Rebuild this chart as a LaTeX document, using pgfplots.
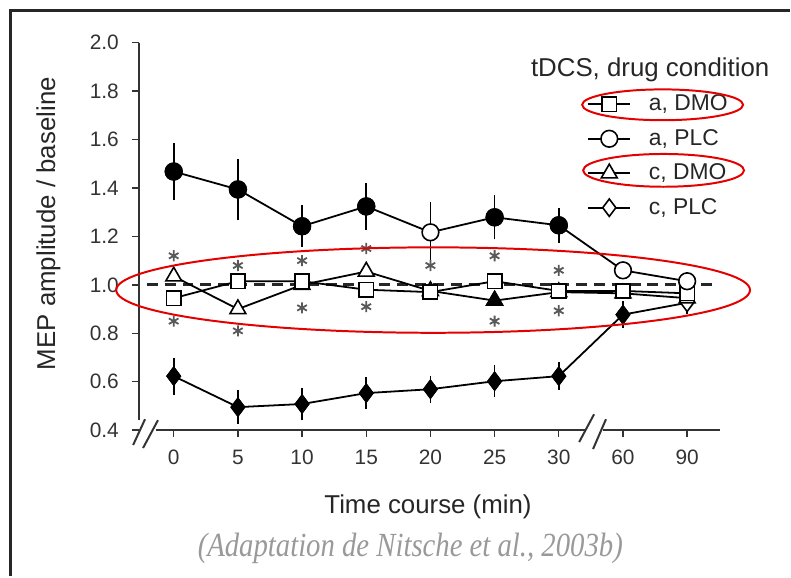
\documentclass[border=0pt]{standalone}
\usepackage{pgfplots}
\pgfplotsset{compat=1.18}
\usepackage{fontspec}
\usepackage{graphicx}
\setmainfont{Liberation Sans}
\newfontfamily\capfont{Liberation Serif}

\begin{document}
\begin{tikzpicture}
% pixel frame of the reference: 1 px = 0.5 pt, axis corner at px (140,433)
\begin{scope}[x=0.5pt, y=-0.5pt, xshift=-70pt, yshift=216.5pt]
  \useasboundingbox (0,0) rectangle (791,577);
\end{scope}

\begin{axis}[
    at={(0,0)}, anchor=south west,
    scale only axis, width=292pt, height=195pt,
    xmin=-0.54, xmax=8.5, ymin=0.4, ymax=2.0,
    axis x line*=bottom, axis y line*=left,
    axis line style={draw=none},
    clip=false,
    xtick={0,1,2,3,4,5,6,7,8},
    xticklabels={0,5,10,15,20,25,30,60,90},
    ytick={0.4,0.6,0.8,1.0,1.2,1.4,1.6,1.8,2.0},
    /pgf/number format/assume math mode=true,
    tick align=outside,
    major tick length=3.5pt,
    tick style={line width=0.7pt, black!80},
    ticklabel style={font=\fontsize{10.5}{12}\selectfont, text=black!80},
    yticklabel style={anchor=east, inner sep=0pt, xshift=-6.5pt,
        /pgf/number format/fixed, /pgf/number format/fixed zerofill,
        /pgf/number format/precision=1},
    xticklabel style={anchor=north, inner sep=0pt, yshift=-6.5pt},
    xlabel={Time course (min)},
    ylabel={MEP amplitude / baseline},
    xlabel style={at={(axis description cs:0.498,-0.197)}, anchor=center,
        font=\fontsize{13}{15}\selectfont, text=black!85},
    ylabel style={at={(axis description cs:-0.156,0.533)}, anchor=center,
        font=\fontsize{13}{15}\selectfont, text=black!85},
    legend style={at={(rel axis cs:0.773,0.868)}, anchor=north west,
        draw=none, fill=none, inner sep=0pt, outer sep=0pt,
        row sep=6.85pt, column sep=9pt,
        font=\fontsize{11.5}{13}\selectfont, text=black!85,
        nodes={inner sep=0pt, text height=8.5pt, text depth=2pt}},
    legend cell align=left,
    legend image code/.code={\draw[mark repeat=2, mark phase=2]
        plot coordinates {(0pt,0pt) (10.5pt,0pt) (21pt,0pt)};},
]
% legend entries
\addlegendimage{black, line width=0.9pt, mark=square*, mark size=3.6pt, mark options={fill=white, line width=0.8pt}}
\addlegendentry{a, DMO}
\addlegendimage{black, line width=0.9pt, mark=*, mark size=4.2pt, mark options={fill=white, line width=0.8pt}}
\addlegendentry{a, PLC}
\addlegendimage{black, line width=0.9pt, mark=triangle*, mark size=4.6pt, mark options={fill=white, line width=0.8pt}}
\addlegendentry{c, DMO}
\addlegendimage{black, line width=0.9pt, mark=diamond*, mark size=4.4pt, mark options={fill=white, line width=0.8pt}}
\addlegendentry{c, PLC}

% baseline
\addplot[forget plot, black!85, line width=1.4pt, dash pattern=on 5.5pt off 3.5pt]
    coordinates {(-0.42,1) (8.41,1)};

% c, PLC (diamonds)
\addplot[forget plot, black, line width=0.9pt, mark=diamond*, mark size=4.4pt,
    mark options={fill=white, line width=0.8pt},
    error bars/.cd, y dir=both, y explicit,
    error bar style={line width=0.8pt}, error mark options={mark size=2pt, line width=0.8pt}]
    coordinates {(0,0.623) +- (0,0.06) (1,0.495) +- (0,0.053) (2,0.508) +- (0,0.05)
                 (3,0.553) +- (0,0.05) (4,0.569) +- (0,0.04) (5,0.602) +- (0,0.05)
                 (6,0.623) +- (0,0.04) (7,0.877) +- (0,0.04) (8,0.926) +- (0,0.03)};
\addplot[forget plot, only marks, black, mark=diamond*, mark size=4.4pt,
    mark options={fill=black, line width=0.8pt}]
    coordinates {(0,0.623) (1,0.495) (2,0.508) (3,0.553) (4,0.569) (5,0.602) (6,0.623) (7,0.877)};

% c, DMO (triangles)
\addplot[forget plot, black, line width=0.9pt, mark=triangle*, mark size=4.6pt,
    mark options={fill=white, line width=0.8pt}]
    coordinates {(0,1.035) (1,0.90) (2,1.0) (3,1.055) (4,0.975) (5,0.935) (6,0.97) (7,0.965) (8,0.945)};
\addplot[forget plot, only marks, black, mark=triangle*, mark size=4.6pt,
    mark options={fill=black, line width=0.8pt}]
    coordinates {(5,0.935)};

% a, DMO (squares)
\addplot[forget plot, black, line width=0.9pt, mark=square*, mark size=3.6pt,
    mark options={fill=white, line width=0.8pt}]
    coordinates {(0,0.945) (1,1.015) (2,1.015) (3,0.98) (4,0.97) (5,1.015) (6,0.975) (7,0.975) (8,0.965)};

% a, PLC (circles)
\addplot[forget plot, black, line width=0.9pt, mark=*, mark size=4.2pt,
    mark options={fill=white, line width=0.8pt},
    error bars/.cd, y dir=both, y explicit,
    error bar style={line width=0.8pt}, error mark options={mark size=2pt, line width=0.8pt}]
    coordinates {(0,1.468) +- (0,0.10) (1,1.394) +- (0,0.11) (2,1.242) +- (0,0.07)
                 (3,1.324) +- (0,0.08) (4,1.217) +- (0,0.11) (5,1.279) +- (0,0.075)
                 (6,1.246) +- (0,0.055) (7,1.06) +- (0,0.02) (8,1.015) +- (0,0.02)};
\addplot[forget plot, only marks, black, mark=*, mark size=4.2pt,
    mark options={fill=black, line width=0.8pt}]
    coordinates {(0,1.468) (1,1.394) (2,1.242) (3,1.324) (5,1.279) (6,1.246)};

% significance asterisks
\addplot[forget plot, only marks, black!65, mark=asterisk, mark size=2.8pt,
    mark options={line width=0.9pt}]
    coordinates {(0,1.12) (0,0.85) (1,1.08) (1,0.81) (2,1.10) (2,0.905)
                 (3,1.15) (3,0.91) (4,1.08) (5,1.12) (5,0.85) (6,1.06) (6,0.893)};

% broken axis lines
\draw[black!80, line width=1pt] (axis cs:-0.54,2.0) -- (axis cs:-0.54,0.44);
\draw[black!80, line width=1pt] (axis cs:-0.28,0.4) -- (axis cs:6.42,0.4);
\draw[black!80, line width=1pt] (axis cs:6.69,0.4) -- (axis cs:8.51,0.4);
\end{axis}

\begin{scope}[x=0.5pt, y=-0.5pt, xshift=-70pt, yshift=216.5pt]
  % axis breaks
  \draw[black!80, line width=1pt] (134,448) -- (146,422) (144,451) -- (159,423);
  \draw[black!80, line width=1pt] (583,445) -- (598,417) (597,452) -- (610,422);
  % legend title
  \node[font=\fontsize{13}{15}\selectfont, text=black!85] at (654.5,70) {tDCS, drug condition};
  % source line
  \node[text=black!40] at (413,552)
      {\scalebox{0.85}[1]{\capfont\itshape\fontsize{17}{20}\selectfont (Adaptation de Nitsche et al., 2003b)}};
  % frame
  \draw[black!85, line width=1.25pt] (10.5,580) -- (10.5,10.5) -- (795,10.5);
  % red highlight ellipses
  \draw[red!90!black, line width=1pt] (436,292) ellipse [x radius=319, y radius=43];
  \draw[red!90!black, line width=1pt] (667,105.5) ellipse [x radius=81, y radius=15.5];
  \draw[red!90!black, line width=1pt] (668,171.5) ellipse [x radius=81, y radius=16.5];
\end{scope}
\end{tikzpicture}
\end{document}
